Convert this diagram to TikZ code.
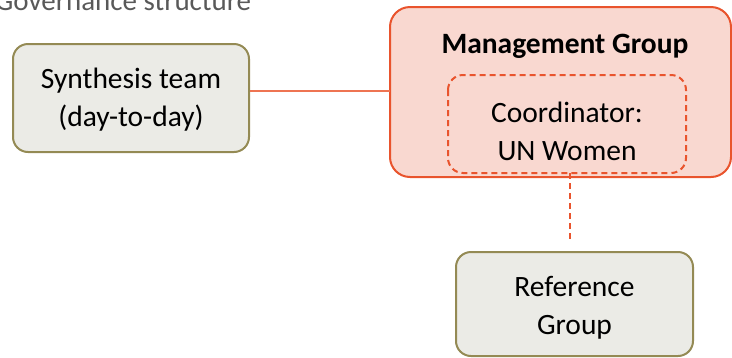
\documentclass[tikz,border=0pt]{standalone}
\usepackage{fontspec}
\setmainfont{Carlito}
\definecolor{greyfill}{HTML}{EBEBE6}
\definecolor{olive}{HTML}{948A54}
\definecolor{mgfill}{HTML}{F9D8D0}
\definecolor{mgline}{HTML}{E9542D}
\definecolor{linkline}{HTML}{EE7452}
\definecolor{titlegrey}{HTML}{595959}
\begin{document}
\begin{tikzpicture}[x=1pt,y=-1pt,
  greybox/.style={draw=olive,fill=greyfill,line width=2pt,rounded corners=15pt,inner sep=0pt},
  txt/.style={font=\fontsize{29.5}{38}\selectfont,align=center,text=black},
]
\useasboundingbox (0,0) rectangle (732,357);
\begin{scope}
\clip (0,0) rectangle (732,357);
\node[anchor=base west,inner sep=0pt,text=titlegrey,font=\fontsize{29}{34}\selectfont] (title) at (-5,10) {Governance structure};
% Management group
\draw[draw=mgline,fill=mgfill,line width=2pt,rounded corners=20pt] (390,7) rectangle (731,177);
\coordinate (mgW) at (390,91);
\draw[draw=mgline,line width=2pt,dash pattern=on 6pt off 4pt,rounded corners=15pt] (448,75) rectangle (686,173);
\coordinate (coordS) at (570,173);
\node[txt,font=\fontsize{29.5}{38}\selectfont\bfseries] (mgtitle) at (565,46) {Management Group};
\node[txt] (coord) at (567,131) {Coordinator:\\UN Women};
% Synthesis
\node[greybox,minimum width=236pt,minimum height=108pt] (syn) at (131,98) {};
\node[txt] (syntxt) at (131,100) {Synthesis team\\(day-to-day)};
% Reference
\node[greybox,minimum width=237pt,minimum height=104pt] (ref) at (574.5,304) {};
\node[txt] (reftxt) at (574.5,308) {Reference\\Group};
\coordinate (dashend) at (570,240);
% connectors
\draw[linkline,line width=1.3pt] (syn.east |- mgW) -- (mgW);
\draw[mgline,line width=1.5pt,dash pattern=on 6pt off 4pt] (coordS) -- (dashend);
\end{scope}
\end{tikzpicture}
\end{document}
